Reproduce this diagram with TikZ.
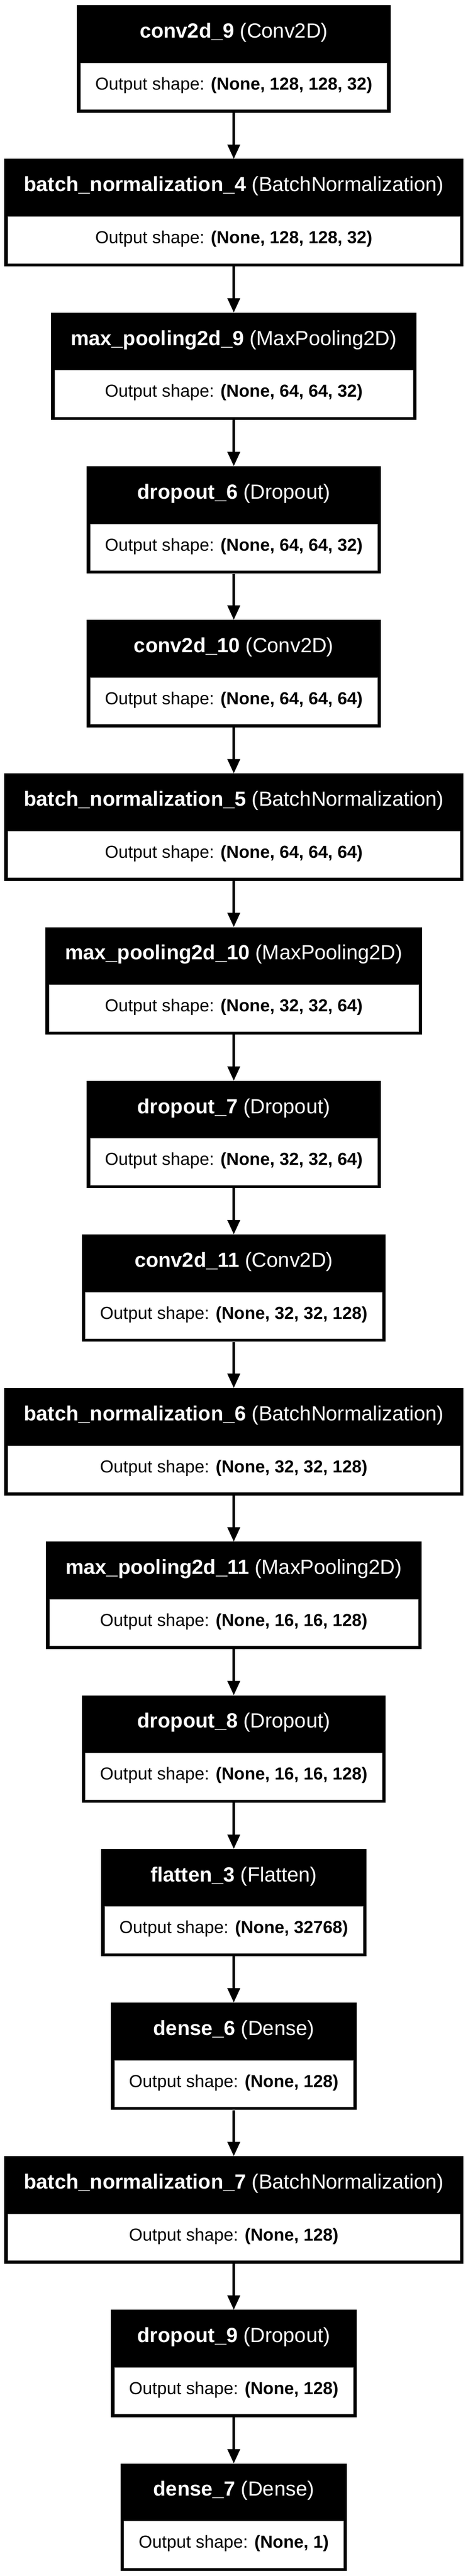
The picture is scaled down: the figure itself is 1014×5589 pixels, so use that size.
\documentclass[tikz,border=0pt]{standalone}
\usepackage{fontspec}
\setmainfont{Liberation Sans}
\usetikzlibrary{arrows.meta,calc}
\pgfdeclarelayer{bg}
\pgfsetlayers{bg,main}
\newcommand\lyrhead{\fontsize{44.5pt}{53pt}\selectfont}
\newcommand\lyrbody{\fontsize{37.7pt}{45pt}\selectfont}
\tikzset{
  layerbox/.style={rectangle, draw=none, fill=black, minimum height=233pt, inner sep=0pt, anchor=north},
  innerbox/.style={fill=white, draw=black!35, line width=0.8pt},
  headtext/.style={text=white, anchor=base, inner sep=0pt, font=\lyrhead},
  bodytext/.style={text=black, anchor=base, inner sep=0pt, font=\lyrbody},
  arr/.style={line width=4.7pt, -{Triangle[length=31pt,width=27pt]}},
}
\newcommand\layer[5]{%
  \pgfmathsetlengthmacro\lyrtopy{-11.3pt-333.33pt*#2}%
  \coordinate (#1t) at (507pt,\lyrtopy);
  \node[headtext] (#1h) at ([yshift=-71pt]#1t) {\textbf{#3} #4};
  \node[bodytext] (#1b) at ([yshift=-183.7pt]#1t) {Output shape: \textbf{#5}};
  \begin{pgfonlayer}{bg}
  \path let \p1=(#1h.west), \p2=(#1h.east), \p3=(#1b.west), \p4=(#1b.east),
        \n1={max(\x2-\x1+85pt,\x4-\x3+79pt)} in
        node[layerbox, minimum width=\n1] (#1) at (#1t) {};
  \filldraw[innerbox] ([xshift=8pt,yshift=-125.5pt]#1.north west) rectangle ([xshift=-8pt,yshift=7pt]#1.south east);
  \end{pgfonlayer}
}
\begin{document}
\begin{tikzpicture}
\begin{pgfonlayer}{bg}
\fill[white] (0pt,0pt) rectangle (1014pt,-5589pt);
\end{pgfonlayer}
\useasboundingbox (0pt,0pt) rectangle (1014pt,-5589pt);
\layer{n0}{0}{conv2d\_9}{(Conv2D)}{(None, 128, 128, 32)}
\layer{n1}{1}{batch\_normalization\_4}{(BatchNormalization)}{(None, 128, 128, 32)}
\layer{n2}{2}{max\_pooling2d\_9}{(MaxPooling2D)}{(None, 64, 64, 32)}
\layer{n3}{3}{dropout\_6}{(Dropout)}{(None, 64, 64, 32)}
\layer{n4}{4}{conv2d\_10}{(Conv2D)}{(None, 64, 64, 64)}
\layer{n5}{5}{batch\_normalization\_5}{(BatchNormalization)}{(None, 64, 64, 64)}
\layer{n6}{6}{max\_pooling2d\_10}{(MaxPooling2D)}{(None, 32, 32, 64)}
\layer{n7}{7}{dropout\_7}{(Dropout)}{(None, 32, 32, 64)}
\layer{n8}{8}{conv2d\_11}{(Conv2D)}{(None, 32, 32, 128)}
\layer{n9}{9}{batch\_normalization\_6}{(BatchNormalization)}{(None, 32, 32, 128)}
\layer{n10}{10}{max\_pooling2d\_11}{(MaxPooling2D)}{(None, 16, 16, 128)}
\layer{n11}{11}{dropout\_8}{(Dropout)}{(None, 16, 16, 128)}
\layer{n12}{12}{flatten\_3}{(Flatten)}{(None, 32768)}
\layer{n13}{13}{dense\_6}{(Dense)}{(None, 128)}
\layer{n14}{14}{batch\_normalization\_7}{(BatchNormalization)}{(None, 128)}
\layer{n15}{15}{dropout\_9}{(Dropout)}{(None, 128)}
\layer{n16}{16}{dense\_7}{(Dense)}{(None, 1)}
\foreach \a/\b in {n0/n1,n1/n2,n2/n3,n3/n4,n4/n5,n5/n6,n6/n7,n7/n8,n8/n9,n9/n10,n10/n11,n11/n12,n12/n13,n13/n14,n14/n15,n15/n16}
  \draw[arr] (\a.south) -- (\b.north);
\end{tikzpicture}
\end{document}
